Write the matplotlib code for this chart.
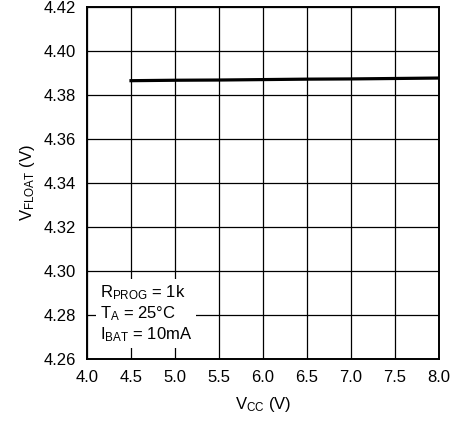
import matplotlib
matplotlib.use('Agg')
import matplotlib.pyplot as plt

plt.rcParams['font.family'] = ['Liberation Sans', 'DejaVu Sans']
plt.rcParams['mathtext.fontset'] = 'custom'
plt.rcParams['mathtext.rm'] = 'Liberation Sans'
plt.rcParams['mathtext.it'] = 'Liberation Sans'
plt.rcParams['mathtext.default'] = 'rm'

# data
vcc = [4.5, 5.0, 5.5, 6.0, 6.5, 7.0, 7.5, 8.0]
vfloat = [4.3865, 4.3867, 4.3868, 4.3870, 4.3872, 4.3873, 4.3875, 4.3877]
x_ticks = [4.0, 4.5, 5.0, 5.5, 6.0, 6.5, 7.0, 7.5, 8.0]
y_ticks = [4.26, 4.28, 4.30, 4.32, 4.34, 4.36, 4.38, 4.40, 4.42]
note_lines = [r'R$_{PROG}$ = 1k', r'T$_{A}$ = 25°C', r'I$_{BAT}$ = 10mA']

fig = plt.figure(figsize=(4.66, 4.23), dpi=100)
ax = fig.add_axes([0.1867, 0.1513, 0.7553, 0.8322])

ax.plot(vcc, vfloat, color='black', linewidth=2.3, zorder=4)

ax.set_xlim(4.0, 8.0)
ax.set_ylim(4.26, 4.42)
ax.set_xticks(x_ticks)
ax.set_yticks(y_ticks)
ax.set_xticklabels([f'{v:.1f}' for v in x_ticks])
ax.set_yticklabels([f'{v:.2f}' for v in y_ticks])
ax.tick_params(length=0, labelsize=12, pad=8)
ax.grid(True, color='black', linewidth=0.9)
ax.set_axisbelow(True)
for s in ax.spines.values():
    s.set_linewidth(1.4)

ax.set_xlabel(r'V$_{CC}$ (V)', fontsize=12, labelpad=7)
ax.set_ylabel(r'V$_{FLOAT}$ (V)', fontsize=12, labelpad=5)

ax.text(0.036, 0.043, '\n'.join(note_lines), transform=ax.transAxes,
        fontsize=12, va='bottom', ha='left', linespacing=1.15, zorder=3,
        bbox=dict(facecolor='white', edgecolor='none', pad=3.0))

fig.savefig('out.png', dpi=100)
